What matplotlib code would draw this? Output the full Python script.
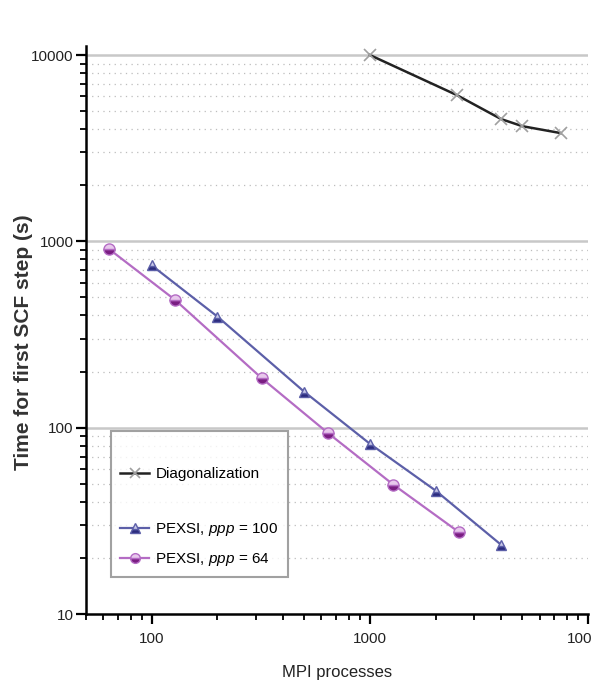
import matplotlib
matplotlib.use("Agg")
import matplotlib.pyplot as plt
from matplotlib.lines import Line2D
from matplotlib.ticker import LogLocator, NullFormatter, FixedLocator, FixedFormatter

font = 'Liberation Sans'

# Data
diag_procs = [1000, 2500, 4000, 5000, 7500]
diag_time = [10000, 6100, 4530, 4150, 3810]
p100_procs = [100, 200, 500, 1000, 2000, 4000]
p100_time = [743, 395, 156, 82, 46, 23.5]
p64_procs = [64, 128, 320, 640, 1280, 2560]
p64_time = [906, 485, 184, 94, 49.5, 27.5]

labels = ['', 'Diagonalization', '', r'PEXSI, $\it{ppp}$ = 100', r'PEXSI, $\it{ppp}$ = 64']
xticks = [100, 1000, 10000]
xticklabels = ['100', '1000', '10000']
yticks = [10, 100, 1000, 10000]
yticklabels = ['10', '100', '1000', '10000']

plt.rcParams['mathtext.fontset'] = 'custom'
plt.rcParams['mathtext.it'] = font + ':italic'
plt.rcParams['mathtext.rm'] = font

fig = plt.figure(figsize=(5.92, 6.97), dpi=100)
ax = fig.add_axes([86/592, 1-614/697, 502/592, (614-46)/697])

c_diag_line = '#222222'
c_diag_mk = '#a0a0a0'
c_blue_line = '#5c5fa8'
c_blue_mk = '#2b2b7e'
c_purp_line = '#b46cc4'
c_purp_mk = '#7a1d82'

ax.plot(diag_procs, diag_time, color=c_diag_line, lw=1.8, marker='x', ms=9,
        mec=c_diag_mk, mew=1.2, zorder=3)
ax.plot(p100_procs, p100_time, color=c_blue_line, lw=1.6, marker='^', ms=7,
        mfc=c_blue_mk, mec=c_blue_line, fillstyle='bottom', markerfacecoloralt='#c8c8e8', zorder=3)
ax.plot(p64_procs, p64_time, color=c_purp_line, lw=1.6, marker='o', ms=8,
        mfc=c_purp_mk, mec=c_purp_line, fillstyle='bottom', markerfacecoloralt='#e8c8ec', zorder=3)

ax.set_xscale('log')
ax.set_yscale('log')
ax.set_xlim(50, 10000)
ax.set_ylim(10, 10000 * 10 ** (9 / 186))

# gridlines
for v in [100, 1000, 10000]:
    ax.axhline(v, color='#c8c8c8', lw=1.8, zorder=1)
minor_vals = [m * 10 ** e for e in (1, 2, 3) for m in range(2, 10)]
for v in minor_vals:
    ax.axhline(v, color='#bdbdbd', lw=0.9, ls=(0, (1, 3.5)), zorder=1)

ax.spines['top'].set_visible(False)
ax.spines['right'].set_visible(False)
ax.spines['left'].set_linewidth(1.8)
ax.spines['bottom'].set_linewidth(1.8)

ax.xaxis.set_major_locator(FixedLocator(xticks))
ax.xaxis.set_major_formatter(FixedFormatter(xticklabels))
ax.yaxis.set_major_locator(FixedLocator(yticks))
ax.yaxis.set_major_formatter(FixedFormatter(yticklabels))
ax.xaxis.set_minor_locator(LogLocator(base=10, subs=range(2, 10)))
ax.yaxis.set_minor_locator(LogLocator(base=10, subs=range(2, 10)))
ax.xaxis.set_minor_formatter(NullFormatter())
ax.yaxis.set_minor_formatter(NullFormatter())
ax.tick_params(which='major', direction='out', length=7, width=1.6, labelsize=11, pad=2)
ax.tick_params(which='minor', direction='out', length=4, width=1.3)
ax.tick_params(axis='x', which='major', pad=6)
for lab in ax.get_xticklabels() + ax.get_yticklabels():
    lab.set_family(font)
    lab.set_color('#222222')

ax.set_xlabel('MPI processes', family=font, fontsize=12, labelpad=14, color='#222222')
ax.set_ylabel('Time for first SCF step (s)', family=font, fontsize=15,
              fontweight='bold', color='#333333')
ax.yaxis.set_label_coords(-0.105, 0.479)

h_blank = Line2D([], [], color='none')
h_diag = Line2D([], [], color=c_diag_line, lw=1.8, marker='x', ms=7, mec=c_diag_mk, mew=1.2)
h_100 = Line2D([], [], color=c_blue_line, lw=1.6, marker='^', ms=7, mfc=c_blue_mk,
               mec=c_blue_line, fillstyle='bottom', markerfacecoloralt='#c8c8e8')
h_64 = Line2D([], [], color=c_purp_line, lw=1.6, marker='o', ms=7, mfc=c_purp_mk,
              mec=c_purp_line, fillstyle='bottom', markerfacecoloralt='#e8c8ec')
leg = ax.legend([h_blank, h_diag, h_blank, h_100, h_64], labels, loc='upper left',
                bbox_to_anchor=(0.05, 0.3226), borderaxespad=0, fancybox=False,
                prop={'family': font, 'size': 11}, handlelength=1.9, handletextpad=0.4,
                labelspacing=0.85, borderpad=0.6, frameon=True)
leg.get_frame().set_edgecolor('#8a8a8a')
leg.get_frame().set_linewidth(1.5)
leg.set_zorder(5)

fig.savefig('out.png', dpi=100)
